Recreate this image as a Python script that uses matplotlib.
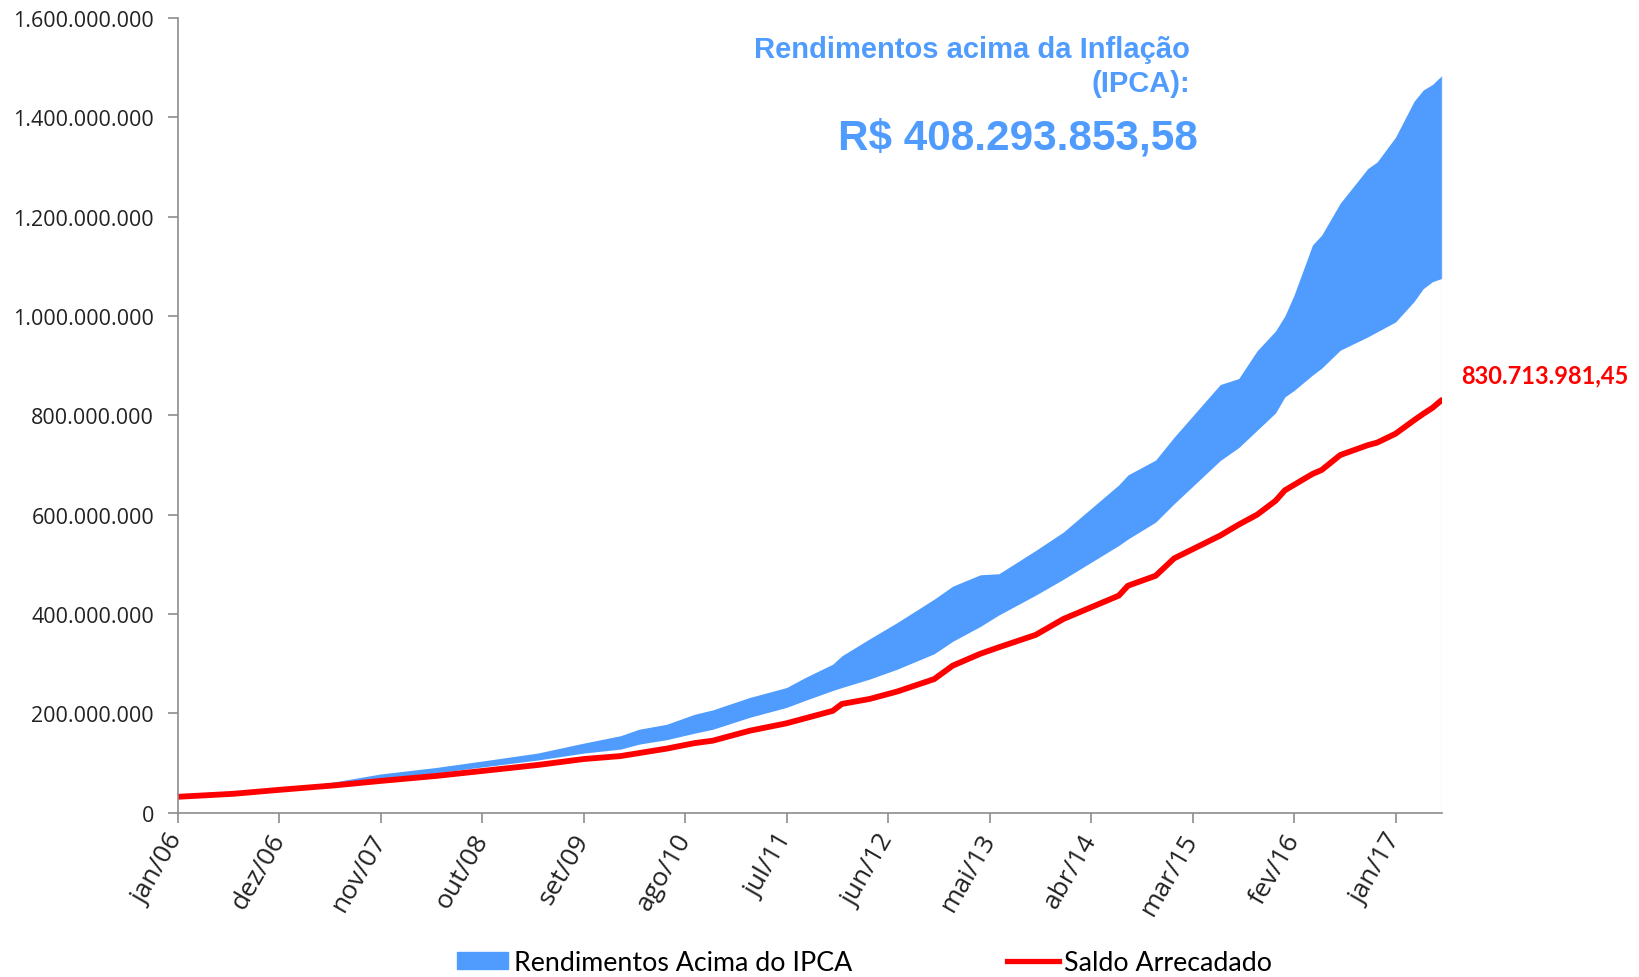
import numpy as np
from matplotlib import pyplot as plt
from matplotlib.patches import Patch
from matplotlib.lines import Line2D
from matplotlib.ticker import FuncFormatter

# meses contados a partir de jan/06 (0) até jun/17 (137)
meses = [0, 6, 11, 17, 22, 28, 33, 39, 44, 48, 50, 53, 56, 58, 62, 66, 68, 71, 72, 75,
         78, 82, 84, 87, 89, 93, 96, 102, 103, 106, 108, 113, 115, 117, 119, 120, 121,
         123, 124, 126, 129, 130, 132, 134, 135, 136, 137]

# saldo arrecadado (milhões R$)
saldo = [32, 38, 46, 55, 64, 74, 84, 96, 108, 114, 120, 129, 140, 145, 165, 180, 190, 205, 219, 229,
         244, 269, 296, 320, 333, 358, 390, 437, 457, 477, 512, 558, 580, 600, 628, 649, 660,
         682, 690, 720, 740, 745, 763, 790, 803, 815, 830.7]

# saldo corrigido pelo IPCA (limite inferior da área)
saldo_ipca = [32, 38, 46.5, 58, 68, 80, 92, 106, 120, 128, 138, 147, 160, 168, 192, 212, 226, 246, 252, 269,
              289, 320, 345, 375, 398, 438, 470, 538, 551, 585, 622, 709, 735, 770, 805, 837, 850,
              881, 895, 931, 958, 968, 988, 1029, 1055, 1069, 1075.6]

# saldo com rendimentos (limite superior da área)
saldo_total = [32, 39, 47.5, 62, 78, 91, 104, 120, 140, 155, 168, 178, 198, 207, 232, 252, 272, 299, 316, 350,
               383, 430, 456, 479, 481, 528, 565, 660, 680, 710, 756, 862, 874, 930, 970, 1000, 1042,
               1143, 1163, 1227, 1297, 1310, 1360, 1432, 1455, 1466, 1483.9]

rotulos_x = ['jan/06', 'dez/06', 'nov/07', 'out/08', 'set/09', 'ago/10', 'jul/11',
             'jun/12', 'mai/13', 'abr/14', 'mar/15', 'fev/16', 'jan/17']

azul = '#4F9CFE'
vermelho = '#FF0000'

plt.rcParams['font.family'] = ['Open Sans', 'DejaVu Sans']

x = np.array(meses)
saldo = np.array(saldo) * 1e6
saldo_ipca = np.array(saldo_ipca) * 1e6
saldo_total = np.array(saldo_total) * 1e6

fig = plt.figure(figsize=(16.39, 9.78), dpi=100)
ax = fig.add_axes([0.1084, 0.1680, 0.7712, 0.8126])

ax.fill_between(x, saldo_ipca, saldo_total, color=azul, lw=0)
ax.plot([x[-1], x[-1]], [0, saldo_total[-1]], color='#dce6f5', lw=1)
ax.plot(x, saldo, color=vermelho, lw=4.2, solid_capstyle='round')

ax.set_xlim(0, 137)
ax.set_ylim(0, 1.6e9)
ax.set_yticks(np.arange(0, 1.6e9 + 1, 2e8))
ax.yaxis.set_major_formatter(FuncFormatter(lambda v, p: f'{v:,.0f}'.replace(',', '.')))
ax.set_xticks(np.arange(0, 133, 11))
ax.set_xticklabels(rotulos_x, rotation=60, ha='right', va='center', rotation_mode='anchor')

for s in ['top', 'right']:
    ax.spines[s].set_visible(False)
for s in ['left', 'bottom']:
    ax.spines[s].set_color('#8c8c8c')
    ax.spines[s].set_linewidth(1.2)
ax.tick_params(axis='both', colors='#8c8c8c', length=7, width=1.2, labelcolor='#222222')
ax.tick_params(axis='y', labelsize=15.5, pad=10)
ax.tick_params(axis='x', labelsize=19, pad=9)

# textos destacados
fig.text(1190 / 1639, 1 - 67 / 978, 'Rendimentos acima da Inflação\n(IPCA):',
         ha='right', va='center', color=azul, fontsize=21, fontweight='bold',
         family='Liberation Sans', linespacing=1.25)
fig.text(1198 / 1639, 1 - 139 / 978, 'R$ 408.293.853,58', ha='right', va='center',
         color=azul, fontsize=30.4, fontweight='bold', family='Liberation Sans')
fig.text(1461 / 1639, 1 - 376 / 978, '830.713.981,45', ha='left', va='center',
         color=vermelho, fontsize=17, fontweight='bold', family='Lato')

# legenda
itens = [Patch(color=azul, label='Rendimentos Acima do IPCA'),
         Line2D([0], [0], color=vermelho, lw=3.8, label='Saldo Arrecadado')]
fig.legend(handles=itens, loc='center', bbox_to_anchor=(0.5275, 0.015), ncol=2, frameon=False,
           prop={'family': 'Lato', 'size': 19.3}, columnspacing=5.8, handlelength=1.92,
           handleheight=0.6, handletextpad=0.2)

fig.savefig('out.png', dpi=100)
